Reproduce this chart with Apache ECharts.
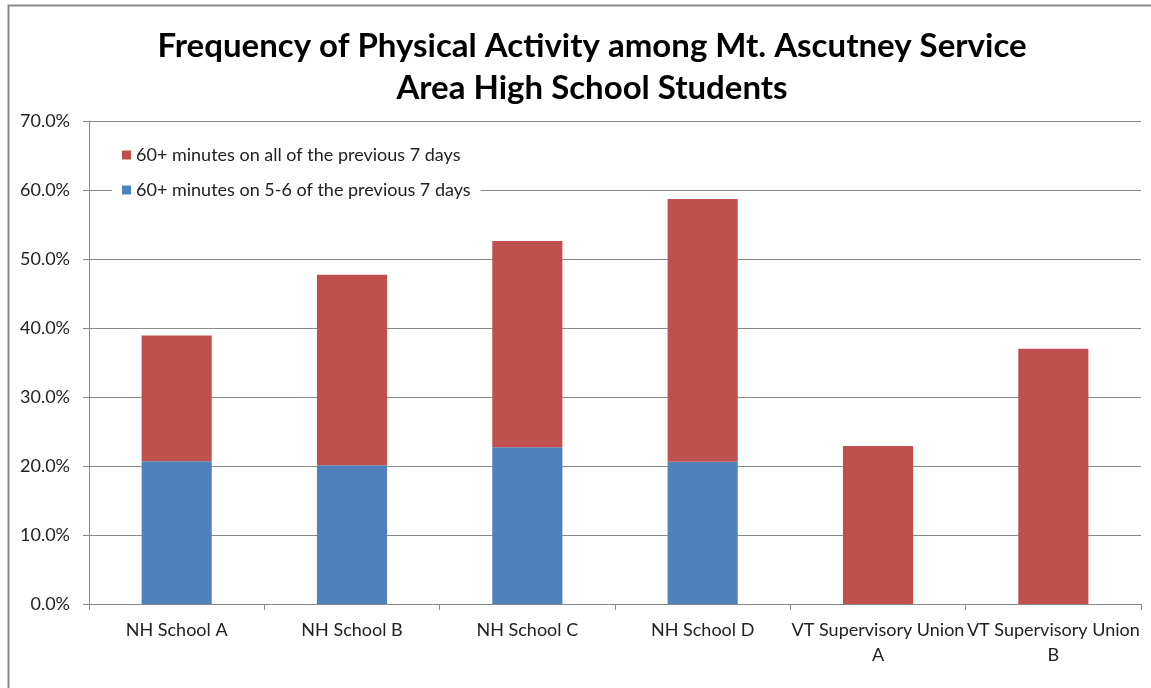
<!DOCTYPE html>
<html>
<head>
<meta charset="utf-8">
<script src="https://cdn.jsdelivr.net/npm/echarts@6/dist/echarts.min.js"></script>
<style>
  html, body { margin: 0; padding: 0; background: #fff; }
  #chart { width: 1151px; height: 688px; }
</style>
</head>
<body>
<div id="chart"></div>
<script>
// School / supervisory union categories along the x axis
const categories = [
  'NH School A', 'NH School B', 'NH School C', 'NH School D',
  'VT Supervisory Union A', 'VT Supervisory Union B'
];
// Percent of students active 60+ minutes on 5-6 of the previous 7 days (bottom segment)
const fiveToSixDays = [20.7, 20.1, 22.7, 20.6, 0, 0];
// Percent of students active 60+ minutes on all 7 days (top segment)
const allSevenDays = [18.2, 27.6, 29.9, 38.1, 22.9, 37.0];
// Y axis range and step, in percent
const yMin = 0, yMax = 70, yStep = 10;

const seriesNames = {
  all: '60+ minutes on all of the previous 7 days',
  some: '60+ minutes on 5-6 of the previous 7 days'
};

const axisGray = '#8a8a8a';
const labelFont = { fontFamily: 'Lato', fontSize: 18, color: '#222' };

const chart = echarts.init(document.getElementById('chart'), null, { renderer: 'canvas' });

chart.setOption({
  animation: false,
  backgroundColor: '#fff',
  title: {
    text: 'Frequency of Physical Activity among Mt. Ascutney Service\nArea High School Students',
    left: 587,
    textAlign: 'center',
    top: 20,
    textStyle: {
      fontFamily: 'Lato',
      fontWeight: 'bold',
      fontSize: 33,
      lineHeight: 42,
      color: '#000'
    }
  },
  graphic: [{
    type: 'rect',
    silent: true,
    z: 100,
    shape: { x: 8.5, y: 5.5, width: 1400, height: 900 },
    style: { fill: 'none', stroke: '#888', lineWidth: 2 }
  }],
  legend: {
    orient: 'vertical',
    left: 112,
    top: 138,
    padding: [8, 10, 8, 10],
    backgroundColor: '#fff',
    itemWidth: 9,
    itemHeight: 9,
    itemGap: 17,
    icon: 'rect',
    data: [seriesNames.all, seriesNames.some],
    textStyle: { fontFamily: 'Lato', fontSize: 18, color: '#222' }
  },
  grid: { left: 89, right: 10, top: 121, bottom: 84, containLabel: false },
  xAxis: {
    type: 'category',
    data: categories,
    boundaryGap: true,
    axisLine: { lineStyle: { color: axisGray, width: 1 } },
    axisTick: { show: true, length: 6, lineStyle: { color: axisGray } },
    axisLabel: Object.assign({}, labelFont, {
      margin: 14,
      lineHeight: 25,
      interval: 0,
      formatter: v => v.length > 15 ? v.replace(/ (\S+)$/, '\n$1') : v
    })
  },
  yAxis: {
    type: 'value',
    min: yMin,
    max: yMax,
    interval: yStep,
    axisLine: { show: true, lineStyle: { color: axisGray, width: 1 } },
    axisTick: { show: true, length: 6, lineStyle: { color: axisGray } },
    splitLine: { lineStyle: { color: axisGray, width: 1 } },
    axisLabel: Object.assign({}, labelFont, {
      margin: 19,
      formatter: v => v.toFixed(1) + '%'
    })
  },
  series: [
    {
      name: seriesNames.some,
      type: 'bar',
      stack: 'activity',
      data: fiveToSixDays,
      barWidth: '40%',
      itemStyle: { color: '#4F81BD' }
    },
    {
      name: seriesNames.all,
      type: 'bar',
      stack: 'activity',
      data: allSevenDays,
      barWidth: '40%',
      itemStyle: { color: '#C0504D' }
    }
  ]
});
</script>
</body>
</html>
